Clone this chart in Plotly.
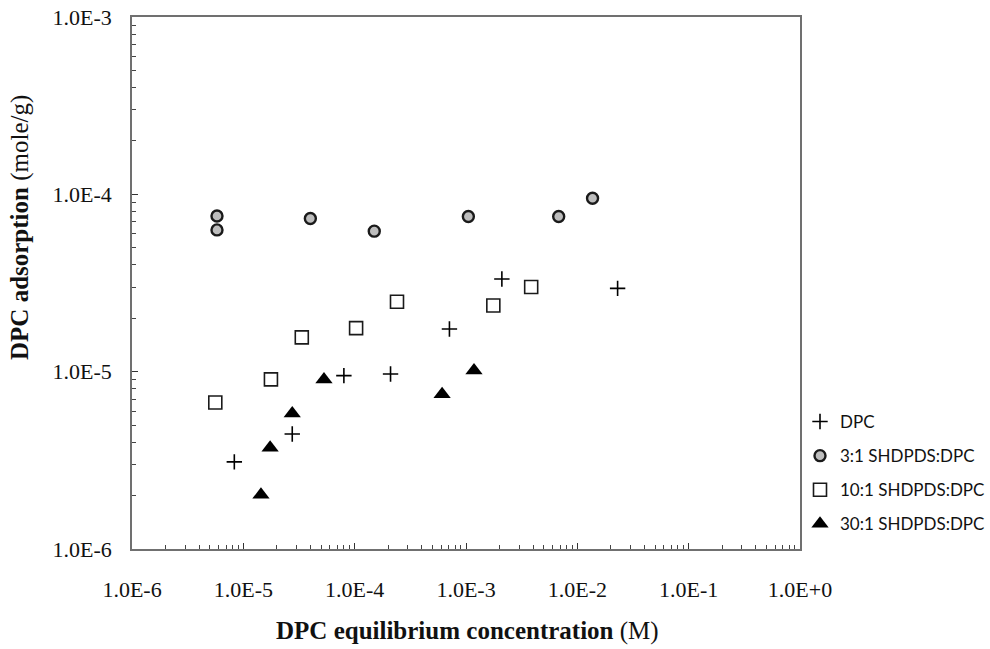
import plotly.graph_objects as go

# ---- data ----
dpc_x = [8.3e-6, 2.75e-5, 8.0e-5, 2.1e-4, 7.1e-4, 2.1e-3, 2.3e-2]
dpc_y = [3.1e-6, 4.45e-6, 9.5e-6, 9.7e-6, 1.74e-5, 3.33e-5, 2.95e-5]

r3_x = [5.8e-6, 5.8e-6, 4.0e-5, 1.5e-4, 1.05e-3, 6.8e-3, 1.37e-2]
r3_y = [7.55e-5, 6.3e-5, 7.3e-5, 6.2e-5, 7.5e-5, 7.5e-5, 9.5e-5]

r10_x = [5.6e-6, 1.77e-5, 3.35e-5, 1.03e-4, 2.4e-4, 1.76e-3, 3.85e-3]
r10_y = [6.7e-6, 9.05e-6, 1.56e-5, 1.76e-5, 2.48e-5, 2.36e-5, 3.0e-5]

r30_x = [1.44e-5, 1.74e-5, 2.75e-5, 5.3e-5, 6.1e-4, 1.18e-3]
r30_y = [2.02e-6, 3.72e-6, 5.81e-6, 9.04e-6, 7.47e-6, 1.016e-5]

x_tick_vals = [1e-6, 1e-5, 1e-4, 1e-3, 1e-2, 1e-1, 1e0]
x_tick_text = ["1.0E-6", "1.0E-5", "1.0E-4", "1.0E-3", "1.0E-2", "1.0E-1", "1.0E+0"]
y_tick_vals = [1e-6, 1e-5, 1e-4, 1e-3]
y_tick_text = ["1.0E-6", "1.0E-5", "1.0E-4", "1.0E-3"]

names = ["DPC", "3:1 SHDPDS:DPC", "10:1 SHDPDS:DPC", "30:1 SHDPDS:DPC"]

SERIF = "Liberation Serif"
SANS = "Lato"
AX = "#707070"

def minor_vals(lo, hi):
    return [m * 10.0 ** k for k in range(lo, hi) for m in range(2, 10)]

fig = go.Figure()
fig.add_trace(go.Scatter(
    x=dpc_x, y=dpc_y, mode="markers", name=names[0], legendgroup="a",
    marker=dict(symbol="cross-thin-open", size=11, color="black",
                line=dict(width=1.6, color="black"))))
fig.add_trace(go.Scatter(
    x=r3_x, y=r3_y, mode="markers", name=names[1], legendgroup="b",
    marker=dict(symbol="circle", size=11, color="#bdbdbd",
                line=dict(width=2.4, color="#1a1a1a"))))
fig.add_trace(go.Scatter(
    x=r10_x, y=r10_y, mode="markers", name=names[2], legendgroup="c",
    marker=dict(symbol="square", size=13, color="white",
                line=dict(width=1.6, color="#1a1a1a"))))
fig.add_trace(go.Scatter(
    x=r30_x, y=r30_y, mode="markers", name=names[3], legendgroup="d",
    marker=dict(symbol="triangle-up", size=15, color="black",
                line=dict(width=0))))

# plot area sits at x 132..800, y 17..549 in the 990x649 window (body margin removed)
fig.update_layout(
    width=990, height=649,
    margin=dict(l=132, r=190, t=17, b=100, autoexpand=False),
    paper_bgcolor="white", plot_bgcolor="white",
    showlegend=True,
    legend=dict(x=1.0, xanchor="left", y=(549 - 404) / 532, yanchor="top",
                font=dict(family=SANS, size=17, color="#111"),
                traceorder="grouped", tracegroupgap=9,
                bgcolor="rgba(0,0,0,0)"),
    xaxis=dict(type="log", range=[-6, 0], tickmode="array", automargin=False,
               tickvals=x_tick_vals, ticktext=x_tick_text, ticklabeloverflow="allow",
               ticks="inside", ticklen=6, tickwidth=1.2, tickcolor="#333",
               showline=True, linecolor=AX, linewidth=1.5, mirror=True,
               showgrid=False, zeroline=False, ticklabelstandoff=20,
               tickfont=dict(family=SERIF, size=22, color="#111"),
               minor=dict(tickmode="array", tickvals=minor_vals(-6, 0),
                          ticks="inside", ticklen=4, tickwidth=1, tickcolor="#444",
                          showgrid=False)),
    yaxis=dict(type="log", range=[-6, -3], tickmode="array", automargin=False,
               tickvals=y_tick_vals, ticktext=y_tick_text, ticklabeloverflow="allow",
               ticks="inside", ticklen=6, tickwidth=1.2, tickcolor="#333",
               showline=True, linecolor=AX, linewidth=1.5, mirror=True,
               showgrid=False, zeroline=False, ticklabelstandoff=14,
               tickfont=dict(family=SERIF, size=22, color="#111"),
               minor=dict(tickmode="array", tickvals=minor_vals(-6, -3),
                          ticks="inside", ticklen=4, tickwidth=1, tickcolor="#444",
                          showgrid=False)),
    xaxis2=dict(type="log", range=[-6, 0], overlaying="x", tickmode="array",
                tickvals=x_tick_vals, ticks="outside", ticklen=5, tickwidth=1.2,
                tickcolor="#333", showticklabels=False, showline=False, automargin=False,
                showgrid=False, zeroline=False, side="bottom", anchor="y"),
    yaxis2=dict(type="log", range=[-6, -3], overlaying="y", tickmode="array",
                tickvals=y_tick_vals, ticks="outside", ticklen=5, tickwidth=1.2,
                tickcolor="#333", showticklabels=False, showline=False, automargin=False,
                showgrid=False, zeroline=False, side="left", anchor="x"),
    annotations=[
        dict(text="<b>DPC equilibrium concentration</b> (M)", xref="paper", yref="paper",
             x=(467 - 132) / 668, y=(549 - 631) / 532, xanchor="center", yanchor="middle",
             showarrow=False, font=dict(family=SERIF, size=25, color="#111")),
        dict(text="<b>DPC adsorption</b> (mole/g)", xref="paper", yref="paper",
             x=(20 - 132) / 668, y=(549 - 228) / 532, xanchor="center", yanchor="middle",
             textangle=-90, showarrow=False, font=dict(family=SERIF, size=25, color="#111")),
    ],
)

fig.write_html("out.html", config={"displayModeBar": False},
               post_script="document.body.style.margin='0';document.body.style.overflow='hidden';")
